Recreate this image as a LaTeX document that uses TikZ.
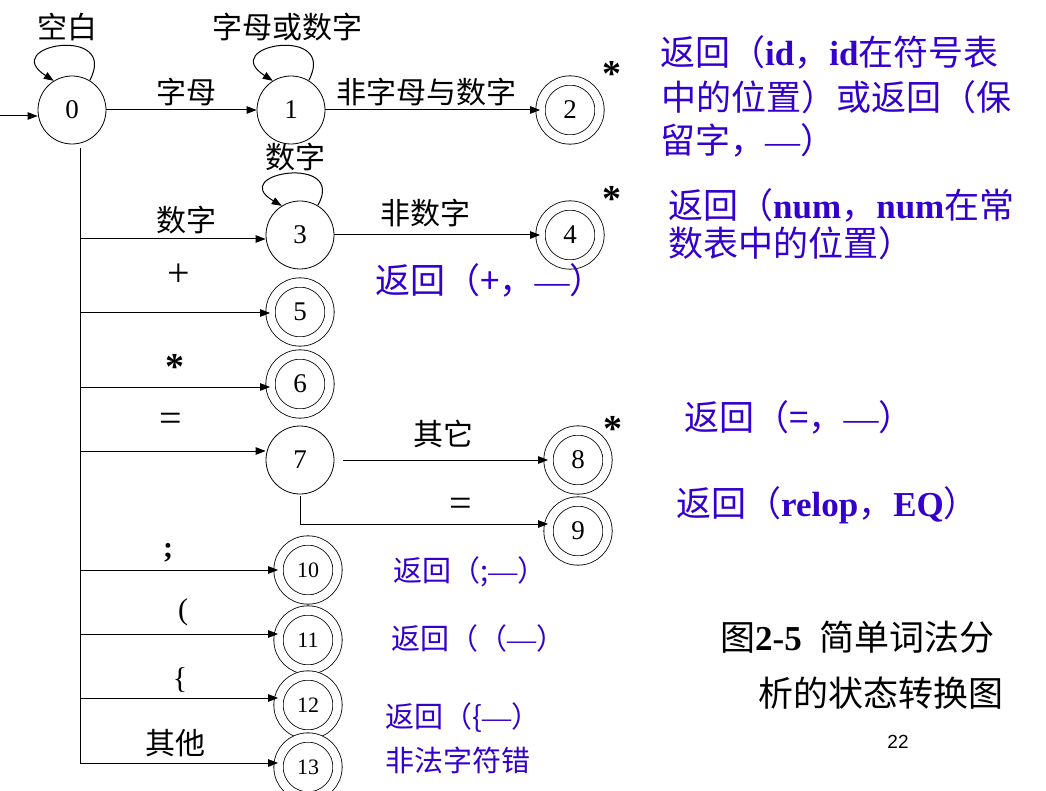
\documentclass[tikz,border=0pt]{standalone}
\usepackage{fontspec}
\setmainfont{Liberation Serif}
\setsansfont{Liberation Sans}
\newfontfamily\cjk{Noto Sans CJK SC}
\usetikzlibrary{arrows.meta}
\definecolor{ret}{RGB}{51,0,204}
\newcommand\fsz[1]{\fontsize{#1}{#1}\selectfont}
\newcommand\dsh{{\rmfamily —}}
\begin{document}
\begin{tikzpicture}[x=1pt,y=-1pt,
  st/.style={circle,draw,minimum size=68pt,inner sep=0pt,line width=0.8pt,font=\fsz{27}},
  acc/.style={circle,draw,double,double distance=8.5pt,minimum size=59pt,inner sep=0pt,line width=0.8pt,font=\fsz{27}},
  accs/.style={acc,font=\fsz{22}},
  arr/.style={line width=1pt,-{Triangle[length=10pt,width=7.5pt]}},
  ln/.style={line width=1pt},
  lab/.style={inner sep=0pt,font=\cjk\fsz{30}},
  sym/.style={inner sep=0pt,font=\fsz{40}},
  star/.style={inner sep=0pt,font=\bfseries\fsz{38}},
  big/.style={inner sep=0pt,anchor=west,text=ret,font=\cjk\fsz{35}},
  small/.style={inner sep=0pt,anchor=west,text=ret,font=\cjk\fsz{29}},
  captxt/.style={inner sep=0pt,anchor=west,font=\cjk\fsz{35}}]
\useasboundingbox (0,0) rectangle (1046,791);
% states
\node[st] (n0) at (72,110) {0};
\node[st] (n1) at (291,110) {1};
\node[acc] (n2) at (570,110) {2};
\node[st] (n3) at (300,235) {3};
\node[acc] (n4) at (570,235) {4};
\node[acc] (n5) at (300,312) {5};
\node[acc] (n6) at (300,384) {6};
\node[st] (n7) at (300,460) {7};
\node[acc] (n8) at (578,460) {8};
\node[acc] (n9) at (578,531) {9};
\node[accs] (n10) at (308,570) {10};
\node[accs] (n11) at (308,640) {11};
\node[accs] (n12) at (308,705) {12};
\node[accs] (n13) at (308,767) {13};
% coordinates
\coordinate (s0) at (0,116);
\coordinate (t0) at (80,148);
\coordinate (t3) at (80,239);
\coordinate (t5) at (80,313);
\coordinate (t6) at (80,387);
\coordinate (t7) at (80,451);
\coordinate (t10) at (80,570);
\coordinate (t11) at (80,634);
\coordinate (t12) at (80,698);
\coordinate (t13) at (80,763);
\coordinate (s78) at (343,460);
\coordinate (s79) at (300,496);
\coordinate (c79) at (300,524);
% connectors
\draw[arr] (s0) -- (n0.west |- s0);
\draw[arr] (n0) -- (n1);
\draw[arr] (n1) -- (n2);
\draw[arr] (n3) -- (n4);
\draw[ln] (t0) -- (t13);
\draw[arr] (t3) -- (n3.west |- t3);
\draw[arr] (t5) -- (n5.west |- t5);
\draw[arr] (t6) -- (n6.west |- t6);
\draw[arr] (t7) -- (n7.west |- t7);
\draw[arr] (t10) -- (n10.west |- t10);
\draw[arr] (t11) -- (n11.west |- t11);
\draw[arr] (t12) -- (n12.west |- t12);
\draw[arr] (t13) -- (n13.west |- t13);
\draw[arr] (s78) -- (n8);
\draw[arr] (s79) -- (c79) -- (n9.west |- c79);
% loops
\draw[arr] (n0.59) .. controls +(30,-56) and +(-56,-36) .. (n0.122);
\draw[arr] (n1.59) .. controls +(30,-56) and +(-56,-36) .. (n1.122);
\draw[arr] (n3.59) .. controls +(30,-52) and +(-56,-33) .. (n3.122);
% edge labels
\node[lab] (l0) at (67,27) {空白};
\node[lab] (l1) at (287,27) {字母或数字};
\node[lab] (l01) at (186,92) {字母};
\node[lab] (l12) at (426,92) {非字母与数字};
\node[lab] (l3) at (295,157) {数字};
\node[lab] (l03) at (186,220) {数字};
\node[lab] (l34) at (425,213) {非数字};
\node[lab] (l78) at (443,434) {其它};
\node[lab] (l013) at (175,743) {其他};
\node[sym] (l05) at (179,275) {+};
\node[star] (l06) at (175,367) {*};
\node[sym] (l07) at (171,422) {=};
\node[inner sep=0pt,font=\bfseries\fsz{30}] (l010) at (168,553) {;};
\node[inner sep=0pt,font=\fsz{30}] (l011) at (183,612) {(};
\node[inner sep=0pt,font=\fsz{30}] (l012) at (180,680) {\{};
\node[sym] (l79) at (461,507) {=};
% stars
\node[star] (st2) at (612,74) {*};
\node[star] (st4) at (612,199) {*};
\node[star] (st8) at (613,429) {*};
% return texts
\node[big] (r2a) at (660,52) {返回（{\rmfamily\bfseries id}，{\rmfamily\bfseries id}在符号表};
\node[big] (r2b) at (661,97) {中的位置）或返回（保};
\node[big] (r2c) at (660,140) {留字，\dsh）};
\node[big] (r4a) at (668,205) {返回（{\rmfamily\bfseries num}，{\rmfamily\bfseries num}在常};
\node[big] (r4b) at (668,243) {数表中的位置）};
\node[big] (r5) at (375,280) {返回（+，\dsh）};
\node[big] (r8) at (684,417) {返回（=，\dsh）};
\node[big] (r9) at (676,505) {返回（{\rmfamily\bfseries relop}，{\rmfamily\bfseries EQ}）};
\node[small] (r10) at (393,572) {返回（;\dsh）};
\node[small] (r11) at (391,638) {返回（（\dsh）};
\node[small] (r12) at (385,718) {返回（\{\dsh）};
\node[small] (r13) at (385,760) {非法字符错};
% caption
\node[captxt] (cap1) at (720,637) {图{\rmfamily\bfseries 2-5}\hspace{18pt}简单词法分};
\node[captxt] (cap2) at (758,693) {析的状态转换图};
\node[inner sep=0pt,font=\sffamily\fsz{19}] (pg) at (898,742) {22};
\end{tikzpicture}
\end{document}
